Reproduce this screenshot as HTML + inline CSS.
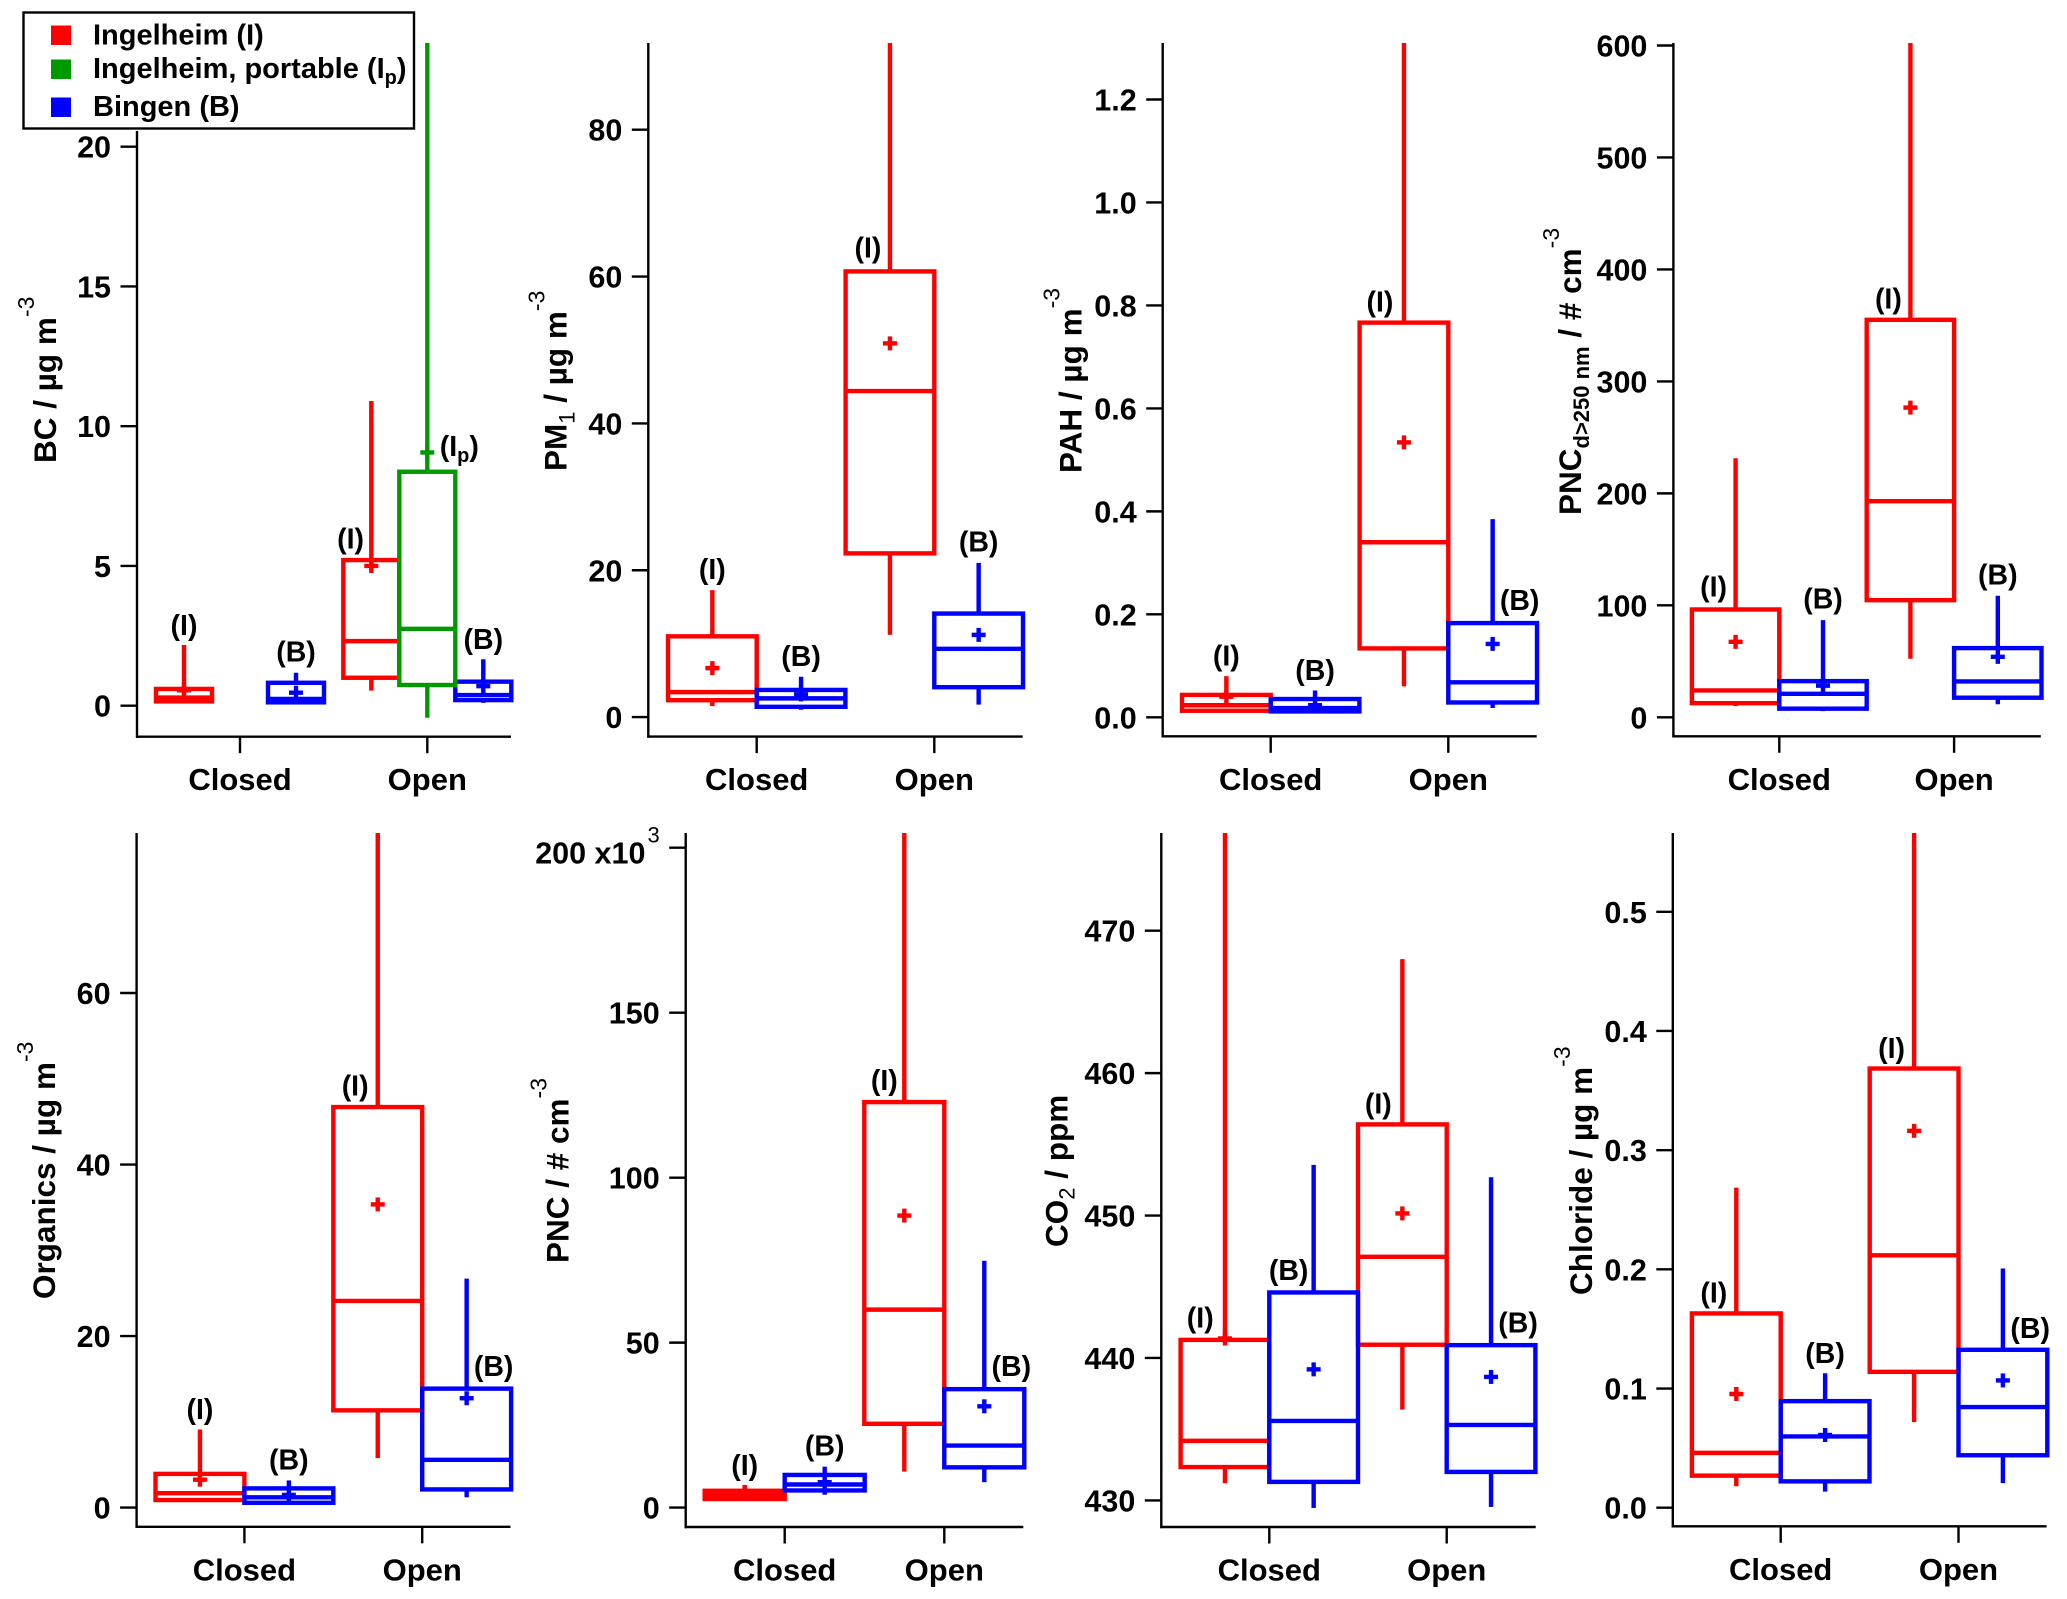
<!DOCTYPE html>
<html lang="en">
<head>
<meta charset="utf-8">
<title>Box plots of air quality at Ingelheim and Bingen, closed and open</title>
<style>
  html,body{margin:0;padding:0;background:#fff;}
  svg{display:block;font-family:"Liberation Sans",Arial,sans-serif;font-weight:bold;fill:#000;}
  .ttl{font-size:31.5px;}
  .sup{font-size:23px;font-weight:normal;}
  .sub{font-size:22px;}
</style>
</head>
<body>
<svg id="chart" xmlns="http://www.w3.org/2000/svg" width="2067" height="1599" viewBox="0 0 2067 1599">
  <rect x="0" y="0" width="2067" height="1599" fill="#ffffff"/>
  <g id="plots"></g>

  <g>
    <text class="ttl" transform="translate(56,463) rotate(-90)">BC / µg m<tspan class="sup" dy="-22">-3</tspan></text>
    <text class="ttl" transform="translate(566.7,471) rotate(-90)">PM<tspan class="sub" dy="8" style="font-weight:normal">1</tspan><tspan dy="-8"> / µg m</tspan><tspan class="sup" dy="-22">-3</tspan></text>
    <text class="ttl" transform="translate(1081.7,473) rotate(-90)">PAH / µg m<tspan class="sup" dy="-22">-3</tspan></text>
    <text class="ttl" transform="translate(1581,515) rotate(-90)">PNC<tspan class="sub" dy="8">d&gt;250 nm</tspan><tspan dy="-8"> / # cm</tspan><tspan class="sup" dy="-22">-3</tspan></text>
    <text class="ttl" transform="translate(55,1299) rotate(-90)">Organics / µg m<tspan class="sup" dy="-22">-3</tspan></text>
    <text class="ttl" transform="translate(568.3,1263) rotate(-90)">PNC / # cm<tspan class="sup" dy="-22">-3</tspan></text>
    <text class="ttl" transform="translate(1067.3,1247) rotate(-90)">CO<tspan class="sub" dy="7" style="font-weight:normal">2</tspan><tspan dy="-7"> / ppm</tspan></text>
    <text class="ttl" transform="translate(1592,1295) rotate(-90)">Chloride / µg m<tspan class="sup" dy="-22">-3</tspan></text>
  </g>

  <g>
    <rect x="23.5" y="12.5" width="390.5" height="116" fill="#ffffff" stroke="#000000" stroke-width="2.4"/>
    <rect x="51" y="25.5" width="20" height="19.5" fill="#ff0000"/>
    <text x="93" y="44.5" font-size="29">Ingelheim (I)</text>
    <rect x="51" y="59.5" width="20" height="19.5" fill="#009900"/>
    <text x="93" y="78" font-size="29">Ingelheim, portable (I<tspan font-size="20" dy="6">p</tspan><tspan dy="-6">)</tspan></text>
    <rect x="51" y="97.5" width="20" height="19.5" fill="#0000ff"/>
    <text x="93" y="116" font-size="29">Bingen (B)</text>
  </g>
</svg>

<script>
// Shared categories
const categories = ["Closed", "Open"];

// Each box is [low whisker, Q1, median, Q3, high whisker, mean]; one box per category.
const bcIngelheim = [[0.1, 0.155, 0.29, 0.6, 2.17, 0.55], [0.54, 1.0, 2.31, 5.21, 10.9, 5.0]];
const bcBingen = [[0.07, 0.12, 0.24, 0.82, 1.18, 0.465], [0.1, 0.2, 0.38, 0.86, 1.66, 0.7]];
const bcPortable = [null, [-0.43, 0.74, 2.75, 8.37, 40, 9.06]];
const bcTicks = [0, 5, 10, 15, 20];
const bcTickLabels = ["0", "5", "10", "15", "20"];

const pm1Ingelheim = [[1.5, 2.3, 3.4, 11.0, 17.3, 6.67], [11.2, 22.3, 44.4, 60.7, 150, 50.9]];
const pm1Bingen = [[1.0, 1.4, 2.55, 3.7, 5.5, 3.1], [1.7, 4.07, 9.3, 14.1, 21, 11.2]];
const pm1Ticks = [0, 20, 40, 60, 80];
const pm1TickLabels = ["0", "20", "40", "60", "80"];

const pahIngelheim = [[0.012, 0.0127, 0.0234, 0.0435, 0.08, 0.04], [0.06, 0.1338, 0.34, 0.7666, 2, 0.534]];
const pahBingen = [[0.008, 0.0114, 0.018, 0.0355, 0.052, 0.0234], [0.018, 0.0288, 0.068, 0.183, 0.385, 0.1425]];
const pahTicks = [0, 0.2, 0.4, 0.6, 0.8, 1.0, 1.2];
const pahTickLabels = ["0.0", "0.2", "0.4", "0.6", "0.8", "1.0", "1.2"];

const pnc250Ingelheim = [[10, 12.6, 24, 96.3, 231.4, 67.4], [52.3, 104.6, 193, 355, 900, 276.6]];
const pnc250Bingen = [[5.5, 7.7, 21, 32.3, 86.8, 28.3], [11.7, 17.5, 32, 61.8, 108.6, 54]];
const pnc250Ticks = [0, 100, 200, 300, 400, 500, 600];
const pnc250TickLabels = ["0", "100", "200", "300", "400", "500", "600"];

const organicsIngelheim = [[0.7, 0.88, 1.68, 3.93, 9.1, 3.25], [5.77, 11.34, 24.1, 46.7, 100, 35.35]];
const organicsBingen = [[0.4, 0.56, 1.2, 2.24, 3.17, 1.48], [1.2, 2.12, 5.57, 13.87, 26.7, 12.75]];
const organicsTicks = [0, 20, 40, 60];
const organicsTickLabels = ["0", "20", "40", "60"];

const pncIngelheim = [[2, 2.6, 3.8, 5.1, 6.9, 4.2], [10.9, 25.4, 60, 122.9, 300, 88.5]];
const pncBingen = [[3.9, 5.2, 7, 9.9, 12.4, 7.7], [7.7, 12.2, 18.8, 35.9, 74.8, 30.7]];
const pncTicks = [0, 50, 100, 150, 200];
const pncTickLabels = ["0", "50", "100", "150", "200 x10"];

const co2Ingelheim = [[431.2, 432.34, 434.18, 441.27, 500, 441.37], [436.37, 440.93, 447.1, 456.4, 468, 450.15]];
const co2Bingen = [[429.47, 431.3, 435.58, 444.6, 453.56, 439.2], [429.54, 432, 435.3, 440.9, 452.69, 438.67]];
const co2Ticks = [430, 440, 450, 460, 470];
const co2TickLabels = ["430", "440", "450", "460", "470"];

const chlorideIngelheim = [[0.018, 0.0269, 0.046, 0.163, 0.2686, 0.0954], [0.0718, 0.114, 0.2118, 0.3685, 2, 0.3162]];
const chlorideBingen = [[0.0135, 0.0221, 0.0598, 0.0894, 0.1128, 0.061], [0.0206, 0.044, 0.0844, 0.1325, 0.2007, 0.1068]];
const chlorideTicks = [0, 0.1, 0.2, 0.3, 0.4, 0.5];
const chlorideTickLabels = ["0.0", "0.1", "0.2", "0.3", "0.4", "0.5"];

// Site tags printed next to the boxes: [sideways nudge in px, height in axis units]
const panels = [
  { id: "bc", left: 137, right: 511, bottom: 736.7, top: 43, axisTop: 131, closedX: 240, openX: 427.3, step: 56,
    pxFirst: 705.7, pxLast: 146.7, ticks: bcTicks, tickLabels: bcTickLabels,
    I: bcIngelheim, B: bcBingen, P: bcPortable,
    tagI: [[0, 2.8], [-20.7, 5.9]], tagB: [[0, 1.85], [0, 2.29]], tagP: [null, [32, 9.2]] },
  { id: "pm1", left: 648.3, right: 1022.7, bottom: 736.6, top: 43, axisTop: 43, closedX: 756.7, openX: 934.3, step: 88.7,
    pxFirst: 717.1, pxLast: 129.7, ticks: pm1Ticks, tickLabels: pm1TickLabels,
    I: pm1Ingelheim, B: pm1Bingen,
    tagI: [[0, 19.8], [-22, 63.6]], tagB: [[0, 8.0], [0, 23.6]] },
  { id: "pah", left: 1162.7, right: 1536.7, bottom: 736.3, top: 43, axisTop: 43, closedX: 1270.7, openX: 1448.3, step: 88.7,
    pxFirst: 717.3, pxLast: 99.5, ticks: pahTicks, tickLabels: pahTickLabels,
    I: pahIngelheim, B: pahBingen,
    tagI: [[0, 0.115], [-24, 0.803]], tagB: [[0, 0.087], [27, 0.2227]] },
  { id: "pnc-250", left: 1673.4, right: 2040.8, bottom: 736.3, top: 43, axisTop: 43, closedX: 1779.3, openX: 1954.1, step: 87.4,
    pxFirst: 717.3, pxLast: 45.5, ticks: pnc250Ticks, tickLabels: pnc250TickLabels,
    I: pnc250Ingelheim, B: pnc250Bingen,
    tagI: [[-22, 114.5], [-22, 372]], tagB: [[0, 103.7], [0, 125.2]] },
  { id: "organics", left: 136.6, right: 510.5, bottom: 1526.8, top: 833, axisTop: 833, closedX: 244.4, openX: 422.2, step: 88.9,
    pxFirst: 1507.6, pxLast: 993, ticks: organicsTicks, tickLabels: organicsTickLabels,
    I: organicsIngelheim, B: organicsBingen,
    tagI: [[0, 11.2], [-22.6, 48.9]], tagB: [[0, 5.3], [27, 16.2]] },
  { id: "pnc", left: 685.7, right: 1023.3, bottom: 1527, top: 833, axisTop: 833, closedX: 784.7, openX: 944.3, step: 80,
    pxFirst: 1507.6, pxLast: 847.7, ticks: pncTicks, tickLabels: pncTickLabels, lastTickPower: "3",
    I: pncIngelheim, B: pncBingen,
    tagI: [[0, 12.2], [-20, 128.9]], tagB: [[0, 18.1], [27, 42.2]] },
  { id: "co2", left: 1161.3, right: 1535.7, bottom: 1527, top: 833, axisTop: 833, closedX: 1269.3, openX: 1446.7, step: 88.7,
    pxFirst: 1500.4, pxLast: 930.7, ticks: co2Ticks, tickLabels: co2TickLabels,
    I: co2Ingelheim, B: co2Bingen,
    tagI: [[-24.7, 442.65], [-24, 457.7]], tagB: [[-25, 446], [27, 442.3]] },
  { id: "chloride", left: 1672.8, right: 2046.6, bottom: 1526.3, top: 833, axisTop: 833, closedX: 1780.7, openX: 1958.5, step: 88.8,
    pxFirst: 1507.7, pxLast: 911.8, ticks: chlorideTicks, tickLabels: chlorideTickLabels,
    I: chlorideIngelheim, B: chlorideBingen,
    tagI: [[-22.5, 0.1786], [-22.5, 0.3835]], tagB: [[0, 0.1277], [27.3, 0.1487]] }
];

const seriesStyles = [
  { key: "I", tagKey: "tagI", color: "#ff0000", name: "ingelheim" },
  { key: "B", tagKey: "tagB", color: "#0000ff", name: "bingen" },
  { key: "P", tagKey: "tagP", color: "#009900", name: "ingelheim-portable" }
];

const SVG_NS = "http://www.w3.org/2000/svg";
const root = document.getElementById("plots");
const MARK_WIDTH = 4.4;
const AXIS_WIDTH = 2.4;

function node(parent, tag, name, attrs, text) {
  const el = document.createElementNS(SVG_NS, tag);
  
  
  for (const k in attrs) el.setAttribute(k, attrs[k]);
  if (text !== undefined) el.textContent = text;
  parent.appendChild(el);
  return el;
}

function line(parent, name, x1, y1, x2, y2, color, width) {
  return node(parent, "line", name, { x1: x1, y1: y1, x2: x2, y2: y2, stroke: color, "stroke-width": width });
}

panels.forEach(function (p) {
  const g = node(root, "g", "panel-" + p.id, {});

  // Axis functions
  const first = p.ticks[0];
  const last = p.ticks[p.ticks.length - 1];
  const yScale = function (v) { return p.pxFirst + (v - first) * (p.pxLast - p.pxFirst) / (last - first); };
  const xTick = function (c) { return p.closedX + c * (p.openX - p.closedX); };
  const slot = function (seriesKey, c) {
    const three = !!p.P;
    const dir = seriesKey === "I" ? -1 : seriesKey === "B" ? 1 : 0;
    return xTick(c) + dir * p.step * (three ? 1 : 0.5);
  };

  const clipId = "clip-" + p.id;
  const clip = node(g, "clipPath", "plot-clip-" + p.id, { id: clipId });
  node(clip, "rect", "plot-clip-area-" + p.id, { x: p.left, y: p.top, width: p.right - p.left + 20, height: p.bottom - p.top });

  // Y axis
  line(g, "y-axis-" + p.id, p.left, p.axisTop, p.left, p.bottom + 1.2, "#000", AXIS_WIDTH);
  p.ticks.forEach(function (t, i) {
    const y = yScale(t);
    const hasPower = p.lastTickPower && i === p.ticks.length - 1;
    line(g, "y-tick-" + p.id, p.left - 16.5, y, p.left, y, "#000", AXIS_WIDTH);
    const label = node(g, "text", "y-tick-label-" + p.id, { x: p.left - 26, y: y + (hasPower ? 16 : 11), "text-anchor": "end", "font-size": 30.5 });
    label.textContent = p.tickLabels[i];
    if (hasPower) {
      const pow = node(label, "tspan", "y-tick-power", { dy: -21, "font-size": 22, "font-weight": "normal" }, p.lastTickPower);
      pow.setAttribute("dx", "2");
    }
  });

  // X axis
  line(g, "x-axis-" + p.id, p.left - 1, p.bottom, p.right, p.bottom, "#000", AXIS_WIDTH);
  categories.forEach(function (cat, c) {
    const x = xTick(c);
    line(g, "x-tick-" + p.id + "-" + cat.toLowerCase(), x, p.bottom, x, p.bottom + 16.5, "#000", AXIS_WIDTH);
    node(g, "text", "x-tick-label-" + p.id + "-" + cat.toLowerCase(), { x: x, y: p.bottom + 53.5, "text-anchor": "middle", "font-size": 31 }, cat);
  });

  // Boxes: red first, then blue, then green on top
  seriesStyles.forEach(function (s) {
    const boxes = p[s.key];
    if (!boxes) return;
    boxes.forEach(function (b, c) {
      if (!b) return;
      const base = s.name + "-" + categories[c].toLowerCase() + "-" + p.id;
      const group = node(g, "g", "box-" + base, { "clip-path": "url(#" + clipId + ")" });
      const x = slot(s.key, c);
      const half = p.step / 2;
      const lo = b[0], q1 = b[1], med = b[2], q3 = b[3], hi = b[4], mean = b[5];
      line(group, "whisker-high-" + base, x, yScale(q3), x, yScale(hi), s.color, MARK_WIDTH);
      line(group, "whisker-low-" + base, x, yScale(q1), x, yScale(lo), s.color, MARK_WIDTH);
      node(group, "rect", "box-body-" + base, {
        x: x - half, y: yScale(q3), width: p.step, height: yScale(q1) - yScale(q3),
        fill: "none", stroke: s.color, "stroke-width": MARK_WIDTH
      });
      line(group, "median-" + base, x - half, yScale(med), x + half, yScale(med), s.color, MARK_WIDTH);
      const my = yScale(mean);
      line(group, "mean-h-" + base, x - 7, my, x + 7, my, s.color, MARK_WIDTH);
      line(group, "mean-v-" + base, x, my - 7, x, my + 7, s.color, MARK_WIDTH);
    });
  });

  // Site tags
  seriesStyles.forEach(function (s) {
    const tags = p[s.tagKey];
    if (!tags) return;
    tags.forEach(function (t, c) {
      if (!t) return;
      const name = "site-label-" + s.name + "-" + categories[c].toLowerCase() + "-" + p.id;
      const el = node(g, "text", name, {
        x: slot(s.key, c) + t[0], y: yScale(t[1]) + 7.5, "text-anchor": "middle", "font-size": 28.5
      });
      if (s.key === "P") {
        el.appendChild(document.createTextNode("(I"));
        node(el, "tspan", "site-label-subscript", { dy: 6, "font-size": 20 }, "p");
        node(el, "tspan", "site-label-close", { dy: -6 }, ")");
      } else {
        el.textContent = "(" + s.key + ")";
      }
    });
  });
});
</script>
</body>
</html>
